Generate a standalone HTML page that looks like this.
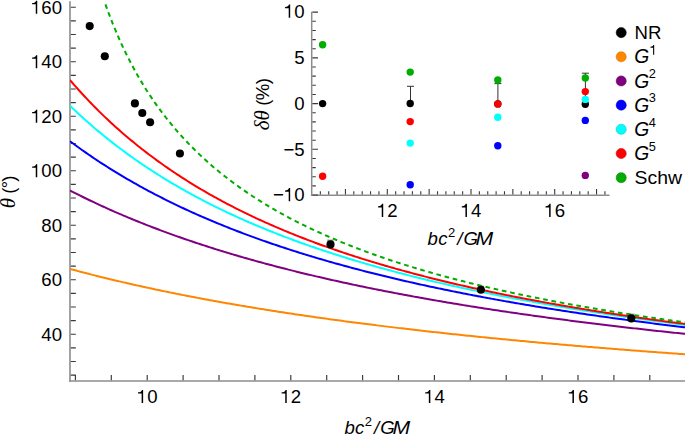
<!DOCTYPE html>
<html><head><meta charset="utf-8"><style>
html,body{margin:0;padding:0;background:#fff;}
body{width:685px;height:435px;overflow:hidden;font-family:"Liberation Sans",sans-serif;}
svg{display:block;}
</style></head><body>
<svg width="685" height="435" viewBox="0 0 685 435">
<rect width="685" height="435" fill="#fff"/>
<defs><clipPath id="cm"><rect x="70.0" y="1.2" width="615.0" height="379.8"/></clipPath></defs>
<line x1="70.0" y1="1.2" x2="70.0" y2="381.8" stroke="#8c8c8c" stroke-width="1.6"/>
<line x1="69.2" y1="381.0" x2="685.0" y2="381.0" stroke="#8c8c8c" stroke-width="1.6"/>
<path d="M70.8,375.07h5.0M70.8,361.45h5.0M70.8,347.82h5.0M70.8,334.20h5.0M70.8,320.57h5.0M70.8,306.95h5.0M70.8,293.32h5.0M70.8,279.70h5.0M70.8,266.07h5.0M70.8,252.45h5.0M70.8,238.82h5.0M70.8,225.20h5.0M70.8,211.57h5.0M70.8,197.95h5.0M70.8,184.32h5.0M70.8,170.70h5.0M70.8,157.07h5.0M70.8,143.45h5.0M70.8,129.82h5.0M70.8,116.20h5.0M70.8,102.58h5.0M70.8,88.95h5.0M70.8,75.33h5.0M70.8,61.70h5.0M70.8,48.08h5.0M70.8,34.45h5.0M70.8,20.82h5.0M70.8,7.20h5.0M75.40,380.2v-5.2M111.30,380.2v-5.2M147.20,380.2v-5.2M183.10,380.2v-5.2M219.00,380.2v-5.2M254.90,380.2v-5.2M290.80,380.2v-5.2M326.70,380.2v-5.2M362.60,380.2v-5.2M398.50,380.2v-5.2M434.40,380.2v-5.2M470.30,380.2v-5.2M506.20,380.2v-5.2M542.10,380.2v-5.2M578.00,380.2v-5.2M613.90,380.2v-5.2M649.80,380.2v-5.2" stroke="#383838" stroke-width="1.15" fill="none"/>
<g clip-path="url(#cm)" fill="none" stroke-width="2" stroke-linejoin="round">
<path d="M70.00,268.92 L72.06,269.48 L74.12,270.03 L76.18,270.58 L78.24,271.13 L80.30,271.68 L82.36,272.22 L84.42,272.75 L86.48,273.29 L88.54,273.82 L90.60,274.35 L92.66,274.87 L94.72,275.39 L96.78,275.91 L98.84,276.42 L100.90,276.94 L102.96,277.44 L105.02,277.95 L107.08,278.45 L109.14,278.95 L111.20,279.45 L113.26,279.94 L115.32,280.43 L117.38,280.92 L119.44,281.40 L121.51,281.88 L123.57,282.36 L125.63,282.84 L127.69,283.31 L129.75,283.78 L131.81,284.25 L133.87,284.71 L135.93,285.18 L137.99,285.64 L140.05,286.09 L142.11,286.55 L144.17,287.00 L146.23,287.45 L148.29,287.89 L150.35,288.34 L152.41,288.78 L154.47,289.22 L156.53,289.65 L158.59,290.09 L160.65,290.52 L162.71,290.95 L164.77,291.37 L166.83,291.80 L168.89,292.22 L170.95,292.64 L173.01,293.05 L175.07,293.47 L177.13,293.88 L179.19,294.29 L181.25,294.70 L183.31,295.11 L185.37,295.51 L187.43,295.91 L189.49,296.31 L191.55,296.71 L193.61,297.10 L195.67,297.49 L197.73,297.88 L199.79,298.27 L201.85,298.66 L203.91,299.04 L205.97,299.43 L208.03,299.81 L210.09,300.18 L212.15,300.56 L214.21,300.94 L216.27,301.31 L218.33,301.68 L220.39,302.05 L222.45,302.41 L224.52,302.78 L226.58,303.14 L228.64,303.50 L230.70,303.86 L232.76,304.22 L234.82,304.57 L236.88,304.93 L238.94,305.28 L241.00,305.63 L243.06,305.98 L245.12,306.32 L247.18,306.67 L249.24,307.01 L251.30,307.35 L253.36,307.69 L255.42,308.03 L257.48,308.37 L259.54,308.70 L261.60,309.03 L263.66,309.36 L265.72,309.69 L267.78,310.02 L269.84,310.35 L271.90,310.67 L273.96,311.00 L276.02,311.32 L278.08,311.64 L280.14,311.96 L282.20,312.27 L284.26,312.59 L286.32,312.90 L288.38,313.22 L290.44,313.53 L292.50,313.84 L294.56,314.14 L296.62,314.45 L298.68,314.76 L300.74,315.06 L302.80,315.36 L304.86,315.66 L306.92,315.96 L308.98,316.26 L311.04,316.56 L313.10,316.85 L315.16,317.15 L317.22,317.44 L319.28,317.73 L321.34,318.02 L323.40,318.31 L325.46,318.59 L327.53,318.88 L329.59,319.16 L331.65,319.45 L333.71,319.73 L335.77,320.01 L337.83,320.29 L339.89,320.57 L341.95,320.84 L344.01,321.12 L346.07,321.39 L348.13,321.67 L350.19,321.94 L352.25,322.21 L354.31,322.48 L356.37,322.75 L358.43,323.01 L360.49,323.28 L362.55,323.54 L364.61,323.81 L366.67,324.07 L368.73,324.33 L370.79,324.59 L372.85,324.85 L374.91,325.11 L376.97,325.37 L379.03,325.62 L381.09,325.88 L383.15,326.13 L385.21,326.38 L387.27,326.63 L389.33,326.88 L391.39,327.13 L393.45,327.38 L395.51,327.63 L397.57,327.87 L399.63,328.12 L401.69,328.36 L403.75,328.60 L405.81,328.85 L407.87,329.09 L409.93,329.33 L411.99,329.56 L414.05,329.80 L416.11,330.04 L418.17,330.28 L420.23,330.51 L422.29,330.74 L424.35,330.98 L426.41,331.21 L428.47,331.44 L430.54,331.67 L432.60,331.90 L434.66,332.13 L436.72,332.35 L438.78,332.58 L440.84,332.80 L442.90,333.03 L444.96,333.25 L447.02,333.48 L449.08,333.70 L451.14,333.92 L453.20,334.14 L455.26,334.36 L457.32,334.57 L459.38,334.79 L461.44,335.01 L463.50,335.22 L465.56,335.44 L467.62,335.65 L469.68,335.86 L471.74,336.08 L473.80,336.29 L475.86,336.50 L477.92,336.71 L479.98,336.92 L482.04,337.13 L484.10,337.33 L486.16,337.54 L488.22,337.74 L490.28,337.95 L492.34,338.15 L494.40,338.36 L496.46,338.56 L498.52,338.76 L500.58,338.96 L502.64,339.16 L504.70,339.36 L506.76,339.56 L508.82,339.76 L510.88,339.95 L512.94,340.15 L515.00,340.35 L517.06,340.54 L519.12,340.73 L521.18,340.93 L523.24,341.12 L525.30,341.31 L527.36,341.50 L529.42,341.69 L531.48,341.88 L533.55,342.07 L535.61,342.26 L537.67,342.45 L539.73,342.64 L541.79,342.82 L543.85,343.01 L545.91,343.19 L547.97,343.38 L550.03,343.56 L552.09,343.74 L554.15,343.92 L556.21,344.11 L558.27,344.29 L560.33,344.47 L562.39,344.65 L564.45,344.83 L566.51,345.00 L568.57,345.18 L570.63,345.36 L572.69,345.53 L574.75,345.71 L576.81,345.88 L578.87,346.06 L580.93,346.23 L582.99,346.41 L585.05,346.58 L587.11,346.75 L589.17,346.92 L591.23,347.09 L593.29,347.26 L595.35,347.43 L597.41,347.60 L599.47,347.77 L601.53,347.94 L603.59,348.10 L605.65,348.27 L607.71,348.44 L609.77,348.60 L611.83,348.77 L613.89,348.93 L615.95,349.09 L618.01,349.26 L620.07,349.42 L622.13,349.58 L624.19,349.74 L626.25,349.90 L628.31,350.06 L630.37,350.22 L632.43,350.38 L634.49,350.54 L636.56,350.70 L638.62,350.86 L640.68,351.02 L642.74,351.17 L644.80,351.33 L646.86,351.48 L648.92,351.64 L650.98,351.79 L653.04,351.95 L655.10,352.10 L657.16,352.25 L659.22,352.40 L661.28,352.56 L663.34,352.71 L665.40,352.86 L667.46,353.01 L669.52,353.16 L671.58,353.31 L673.64,353.46 L675.70,353.61 L677.76,353.75 L679.82,353.90 L681.88,354.05 L683.94,354.19 L686.00,354.34" stroke="#ff8600"/>
<path d="M70.00,190.51 L72.06,191.57 L74.12,192.62 L76.18,193.66 L78.24,194.70 L80.30,195.72 L82.36,196.74 L84.42,197.76 L86.48,198.76 L88.54,199.75 L90.60,200.74 L92.66,201.72 L94.72,202.70 L96.78,203.66 L98.84,204.62 L100.90,205.57 L102.96,206.52 L105.02,207.45 L107.08,208.38 L109.14,209.31 L111.20,210.22 L113.26,211.13 L115.32,212.04 L117.38,212.93 L119.44,213.82 L121.51,214.70 L123.57,215.58 L125.63,216.45 L127.69,217.32 L129.75,218.17 L131.81,219.03 L133.87,219.87 L135.93,220.71 L137.99,221.54 L140.05,222.37 L142.11,223.19 L144.17,224.01 L146.23,224.82 L148.29,225.62 L150.35,226.42 L152.41,227.22 L154.47,228.00 L156.53,228.79 L158.59,229.56 L160.65,230.34 L162.71,231.10 L164.77,231.86 L166.83,232.62 L168.89,233.37 L170.95,234.12 L173.01,234.86 L175.07,235.59 L177.13,236.32 L179.19,237.05 L181.25,237.77 L183.31,238.49 L185.37,239.20 L187.43,239.91 L189.49,240.61 L191.55,241.30 L193.61,242.00 L195.67,242.69 L197.73,243.37 L199.79,244.05 L201.85,244.73 L203.91,245.40 L205.97,246.06 L208.03,246.73 L210.09,247.38 L212.15,248.04 L214.21,248.69 L216.27,249.33 L218.33,249.97 L220.39,250.61 L222.45,251.24 L224.52,251.87 L226.58,252.50 L228.64,253.12 L230.70,253.74 L232.76,254.35 L234.82,254.96 L236.88,255.57 L238.94,256.17 L241.00,256.77 L243.06,257.37 L245.12,257.96 L247.18,258.55 L249.24,259.13 L251.30,259.71 L253.36,260.29 L255.42,260.86 L257.48,261.43 L259.54,262.00 L261.60,262.56 L263.66,263.12 L265.72,263.68 L267.78,264.24 L269.84,264.79 L271.90,265.33 L273.96,265.88 L276.02,266.42 L278.08,266.96 L280.14,267.49 L282.20,268.02 L284.26,268.55 L286.32,269.08 L288.38,269.60 L290.44,270.12 L292.50,270.63 L294.56,271.15 L296.62,271.66 L298.68,272.17 L300.74,272.67 L302.80,273.17 L304.86,273.67 L306.92,274.17 L308.98,274.66 L311.04,275.15 L313.10,275.64 L315.16,276.13 L317.22,276.61 L319.28,277.09 L321.34,277.56 L323.40,278.04 L325.46,278.51 L327.53,278.98 L329.59,279.45 L331.65,279.91 L333.71,280.37 L335.77,280.83 L337.83,281.29 L339.89,281.74 L341.95,282.20 L344.01,282.65 L346.07,283.09 L348.13,283.54 L350.19,283.98 L352.25,284.42 L354.31,284.86 L356.37,285.29 L358.43,285.72 L360.49,286.16 L362.55,286.58 L364.61,287.01 L366.67,287.43 L368.73,287.86 L370.79,288.28 L372.85,288.69 L374.91,289.11 L376.97,289.52 L379.03,289.93 L381.09,290.34 L383.15,290.75 L385.21,291.15 L387.27,291.55 L389.33,291.96 L391.39,292.35 L393.45,292.75 L395.51,293.14 L397.57,293.54 L399.63,293.93 L401.69,294.32 L403.75,294.70 L405.81,295.09 L407.87,295.47 L409.93,295.85 L411.99,296.23 L414.05,296.61 L416.11,296.98 L418.17,297.35 L420.23,297.73 L422.29,298.10 L424.35,298.46 L426.41,298.83 L428.47,299.19 L430.54,299.56 L432.60,299.92 L434.66,300.28 L436.72,300.63 L438.78,300.99 L440.84,301.34 L442.90,301.70 L444.96,302.05 L447.02,302.39 L449.08,302.74 L451.14,303.09 L453.20,303.43 L455.26,303.77 L457.32,304.11 L459.38,304.45 L461.44,304.79 L463.50,305.13 L465.56,305.46 L467.62,305.79 L469.68,306.12 L471.74,306.45 L473.80,306.78 L475.86,307.11 L477.92,307.43 L479.98,307.76 L482.04,308.08 L484.10,308.40 L486.16,308.72 L488.22,309.04 L490.28,309.35 L492.34,309.67 L494.40,309.98 L496.46,310.29 L498.52,310.60 L500.58,310.91 L502.64,311.22 L504.70,311.52 L506.76,311.83 L508.82,312.13 L510.88,312.43 L512.94,312.74 L515.00,313.04 L517.06,313.33 L519.12,313.63 L521.18,313.93 L523.24,314.22 L525.30,314.51 L527.36,314.80 L529.42,315.09 L531.48,315.38 L533.55,315.67 L535.61,315.96 L537.67,316.24 L539.73,316.53 L541.79,316.81 L543.85,317.09 L545.91,317.37 L547.97,317.65 L550.03,317.93 L552.09,318.21 L554.15,318.48 L556.21,318.76 L558.27,319.03 L560.33,319.30 L562.39,319.57 L564.45,319.84 L566.51,320.11 L568.57,320.38 L570.63,320.64 L572.69,320.91 L574.75,321.17 L576.81,321.44 L578.87,321.70 L580.93,321.96 L582.99,322.22 L585.05,322.48 L587.11,322.74 L589.17,322.99 L591.23,323.25 L593.29,323.50 L595.35,323.76 L597.41,324.01 L599.47,324.26 L601.53,324.51 L603.59,324.76 L605.65,325.01 L607.71,325.25 L609.77,325.50 L611.83,325.75 L613.89,325.99 L615.95,326.23 L618.01,326.48 L620.07,326.72 L622.13,326.96 L624.19,327.20 L626.25,327.43 L628.31,327.67 L630.37,327.91 L632.43,328.14 L634.49,328.38 L636.56,328.61 L638.62,328.84 L640.68,329.08 L642.74,329.31 L644.80,329.54 L646.86,329.77 L648.92,330.00 L650.98,330.22 L653.04,330.45 L655.10,330.67 L657.16,330.90 L659.22,331.12 L661.28,331.35 L663.34,331.57 L665.40,331.79 L667.46,332.01 L669.52,332.23 L671.58,332.45 L673.64,332.67 L675.70,332.88 L677.76,333.10 L679.82,333.31 L681.88,333.53 L683.94,333.74 L686.00,333.96" stroke="#800080"/>
<path d="M70.00,141.25 L72.06,142.78 L74.12,144.30 L76.18,145.80 L78.24,147.29 L80.30,148.77 L82.36,150.23 L84.42,151.68 L86.48,153.11 L88.54,154.54 L90.60,155.95 L92.66,157.34 L94.72,158.73 L96.78,160.10 L98.84,161.46 L100.90,162.81 L102.96,164.14 L105.02,165.46 L107.08,166.78 L109.14,168.08 L111.20,169.37 L113.26,170.64 L115.32,171.91 L117.38,173.16 L119.44,174.41 L121.51,175.64 L123.57,176.87 L125.63,178.08 L127.69,179.28 L129.75,180.47 L131.81,181.66 L133.87,182.83 L135.93,183.99 L137.99,185.14 L140.05,186.29 L142.11,187.42 L144.17,188.55 L146.23,189.66 L148.29,190.77 L150.35,191.86 L152.41,192.95 L154.47,194.03 L156.53,195.10 L158.59,196.16 L160.65,197.22 L162.71,198.26 L164.77,199.30 L166.83,200.32 L168.89,201.34 L170.95,202.36 L173.01,203.36 L175.07,204.36 L177.13,205.34 L179.19,206.33 L181.25,207.30 L183.31,208.26 L185.37,209.22 L187.43,210.17 L189.49,211.12 L191.55,212.05 L193.61,212.98 L195.67,213.90 L197.73,214.82 L199.79,215.73 L201.85,216.63 L203.91,217.52 L205.97,218.41 L208.03,219.29 L210.09,220.16 L212.15,221.03 L214.21,221.89 L216.27,222.75 L218.33,223.60 L220.39,224.44 L222.45,225.28 L224.52,226.11 L226.58,226.93 L228.64,227.75 L230.70,228.57 L232.76,229.37 L234.82,230.17 L236.88,230.97 L238.94,231.76 L241.00,232.54 L243.06,233.32 L245.12,234.10 L247.18,234.86 L249.24,235.63 L251.30,236.38 L253.36,237.14 L255.42,237.88 L257.48,238.62 L259.54,239.36 L261.60,240.09 L263.66,240.82 L265.72,241.54 L267.78,242.26 L269.84,242.97 L271.90,243.68 L273.96,244.38 L276.02,245.07 L278.08,245.77 L280.14,246.46 L282.20,247.14 L284.26,247.82 L286.32,248.49 L288.38,249.16 L290.44,249.83 L292.50,250.49 L294.56,251.15 L296.62,251.80 L298.68,252.45 L300.74,253.09 L302.80,253.73 L304.86,254.37 L306.92,255.00 L308.98,255.63 L311.04,256.25 L313.10,256.87 L315.16,257.49 L317.22,258.10 L319.28,258.71 L321.34,259.31 L323.40,259.91 L325.46,260.51 L327.53,261.10 L329.59,261.69 L331.65,262.28 L333.71,262.86 L335.77,263.44 L337.83,264.01 L339.89,264.58 L341.95,265.15 L344.01,265.72 L346.07,266.28 L348.13,266.83 L350.19,267.39 L352.25,267.94 L354.31,268.49 L356.37,269.03 L358.43,269.57 L360.49,270.11 L362.55,270.64 L364.61,271.17 L366.67,271.70 L368.73,272.23 L370.79,272.75 L372.85,273.27 L374.91,273.78 L376.97,274.30 L379.03,274.81 L381.09,275.31 L383.15,275.82 L385.21,276.32 L387.27,276.82 L389.33,277.31 L391.39,277.80 L393.45,278.29 L395.51,278.78 L397.57,279.26 L399.63,279.75 L401.69,280.22 L403.75,280.70 L405.81,281.17 L407.87,281.64 L409.93,282.11 L411.99,282.58 L414.05,283.04 L416.11,283.50 L418.17,283.96 L420.23,284.41 L422.29,284.86 L424.35,285.31 L426.41,285.76 L428.47,286.20 L430.54,286.65 L432.60,287.09 L434.66,287.53 L436.72,287.96 L438.78,288.39 L440.84,288.82 L442.90,289.25 L444.96,289.68 L447.02,290.10 L449.08,290.52 L451.14,290.94 L453.20,291.36 L455.26,291.77 L457.32,292.19 L459.38,292.60 L461.44,293.01 L463.50,293.41 L465.56,293.82 L467.62,294.22 L469.68,294.62 L471.74,295.01 L473.80,295.41 L475.86,295.80 L477.92,296.20 L479.98,296.58 L482.04,296.97 L484.10,297.36 L486.16,297.74 L488.22,298.12 L490.28,298.50 L492.34,298.88 L494.40,299.26 L496.46,299.63 L498.52,300.00 L500.58,300.37 L502.64,300.74 L504.70,301.11 L506.76,301.47 L508.82,301.83 L510.88,302.19 L512.94,302.55 L515.00,302.91 L517.06,303.27 L519.12,303.62 L521.18,303.97 L523.24,304.32 L525.30,304.67 L527.36,305.02 L529.42,305.36 L531.48,305.71 L533.55,306.05 L535.61,306.39 L537.67,306.73 L539.73,307.06 L541.79,307.40 L543.85,307.73 L545.91,308.06 L547.97,308.40 L550.03,308.72 L552.09,309.05 L554.15,309.38 L556.21,309.70 L558.27,310.02 L560.33,310.35 L562.39,310.67 L564.45,310.98 L566.51,311.30 L568.57,311.62 L570.63,311.93 L572.69,312.24 L574.75,312.55 L576.81,312.86 L578.87,313.17 L580.93,313.48 L582.99,313.78 L585.05,314.08 L587.11,314.39 L589.17,314.69 L591.23,314.99 L593.29,315.29 L595.35,315.58 L597.41,315.88 L599.47,316.17 L601.53,316.46 L603.59,316.76 L605.65,317.05 L607.71,317.34 L609.77,317.62 L611.83,317.91 L613.89,318.19 L615.95,318.48 L618.01,318.76 L620.07,319.04 L622.13,319.32 L624.19,319.60 L626.25,319.88 L628.31,320.15 L630.37,320.43 L632.43,320.70 L634.49,320.98 L636.56,321.25 L638.62,321.52 L640.68,321.79 L642.74,322.06 L644.80,322.32 L646.86,322.59 L648.92,322.85 L650.98,323.12 L653.04,323.38 L655.10,323.64 L657.16,323.90 L659.22,324.16 L661.28,324.42 L663.34,324.67 L665.40,324.93 L667.46,325.18 L669.52,325.44 L671.58,325.69 L673.64,325.94 L675.70,326.19 L677.76,326.44 L679.82,326.69 L681.88,326.93 L683.94,327.18 L686.00,327.43" stroke="#0000ff"/>
<path d="M70.00,105.68 L72.06,107.67 L74.12,109.63 L76.18,111.58 L78.24,113.50 L80.30,115.40 L82.36,117.28 L84.42,119.14 L86.48,120.99 L88.54,122.81 L90.60,124.61 L92.66,126.40 L94.72,128.16 L96.78,129.91 L98.84,131.64 L100.90,133.35 L102.96,135.04 L105.02,136.72 L107.08,138.38 L109.14,140.02 L111.20,141.65 L113.26,143.26 L115.32,144.85 L117.38,146.43 L119.44,147.99 L121.51,149.54 L123.57,151.07 L125.63,152.59 L127.69,154.09 L129.75,155.58 L131.81,157.05 L133.87,158.51 L135.93,159.95 L137.99,161.39 L140.05,162.80 L142.11,164.21 L144.17,165.60 L146.23,166.97 L148.29,168.34 L150.35,169.69 L152.41,171.03 L154.47,172.36 L156.53,173.67 L158.59,174.98 L160.65,176.27 L162.71,177.55 L164.77,178.81 L166.83,180.07 L168.89,181.31 L170.95,182.55 L173.01,183.77 L175.07,184.98 L177.13,186.18 L179.19,187.37 L181.25,188.55 L183.31,189.72 L185.37,190.88 L187.43,192.03 L189.49,193.17 L191.55,194.30 L193.61,195.42 L195.67,196.53 L197.73,197.63 L199.79,198.72 L201.85,199.80 L203.91,200.87 L205.97,201.94 L208.03,202.99 L210.09,204.04 L212.15,205.08 L214.21,206.10 L216.27,207.12 L218.33,208.14 L220.39,209.14 L222.45,210.13 L224.52,211.12 L226.58,212.10 L228.64,213.07 L230.70,214.03 L232.76,214.99 L234.82,215.94 L236.88,216.88 L238.94,217.81 L241.00,218.74 L243.06,219.65 L245.12,220.57 L247.18,221.47 L249.24,222.37 L251.30,223.26 L253.36,224.14 L255.42,225.01 L257.48,225.88 L259.54,226.75 L261.60,227.60 L263.66,228.45 L265.72,229.29 L267.78,230.13 L269.84,230.96 L271.90,231.78 L273.96,232.60 L276.02,233.41 L278.08,234.22 L280.14,235.02 L282.20,235.81 L284.26,236.60 L286.32,237.38 L288.38,238.16 L290.44,238.93 L292.50,239.69 L294.56,240.45 L296.62,241.21 L298.68,241.96 L300.74,242.70 L302.80,243.44 L304.86,244.17 L306.92,244.90 L308.98,245.62 L311.04,246.34 L313.10,247.05 L315.16,247.75 L317.22,248.46 L319.28,249.15 L321.34,249.85 L323.40,250.53 L325.46,251.22 L327.53,251.89 L329.59,252.57 L331.65,253.24 L333.71,253.90 L335.77,254.56 L337.83,255.21 L339.89,255.87 L341.95,256.51 L344.01,257.15 L346.07,257.79 L348.13,258.42 L350.19,259.05 L352.25,259.68 L354.31,260.30 L356.37,260.92 L358.43,261.53 L360.49,262.14 L362.55,262.74 L364.61,263.34 L366.67,263.94 L368.73,264.53 L370.79,265.12 L372.85,265.71 L374.91,266.29 L376.97,266.87 L379.03,267.44 L381.09,268.01 L383.15,268.58 L385.21,269.14 L387.27,269.70 L389.33,270.26 L391.39,270.81 L393.45,271.36 L395.51,271.90 L397.57,272.44 L399.63,272.98 L401.69,273.52 L403.75,274.05 L405.81,274.58 L407.87,275.11 L409.93,275.63 L411.99,276.15 L414.05,276.66 L416.11,277.18 L418.17,277.69 L420.23,278.19 L422.29,278.70 L424.35,279.20 L426.41,279.70 L428.47,280.19 L430.54,280.68 L432.60,281.17 L434.66,281.66 L436.72,282.14 L438.78,282.62 L440.84,283.10 L442.90,283.57 L444.96,284.05 L447.02,284.51 L449.08,284.98 L451.14,285.44 L453.20,285.91 L455.26,286.36 L457.32,286.82 L459.38,287.27 L461.44,287.72 L463.50,288.17 L465.56,288.62 L467.62,289.06 L469.68,289.50 L471.74,289.94 L473.80,290.37 L475.86,290.81 L477.92,291.24 L479.98,291.67 L482.04,292.09 L484.10,292.52 L486.16,292.94 L488.22,293.36 L490.28,293.77 L492.34,294.19 L494.40,294.60 L496.46,295.01 L498.52,295.41 L500.58,295.82 L502.64,296.22 L504.70,296.62 L506.76,297.02 L508.82,297.42 L510.88,297.81 L512.94,298.21 L515.00,298.60 L517.06,298.98 L519.12,299.37 L521.18,299.75 L523.24,300.14 L525.30,300.52 L527.36,300.89 L529.42,301.27 L531.48,301.64 L533.55,302.02 L535.61,302.39 L537.67,302.75 L539.73,303.12 L541.79,303.49 L543.85,303.85 L545.91,304.21 L547.97,304.57 L550.03,304.92 L552.09,305.28 L554.15,305.63 L556.21,305.98 L558.27,306.33 L560.33,306.68 L562.39,307.03 L564.45,307.37 L566.51,307.72 L568.57,308.06 L570.63,308.40 L572.69,308.73 L574.75,309.07 L576.81,309.40 L578.87,309.74 L580.93,310.07 L582.99,310.40 L585.05,310.73 L587.11,311.05 L589.17,311.38 L591.23,311.70 L593.29,312.02 L595.35,312.34 L597.41,312.66 L599.47,312.98 L601.53,313.29 L603.59,313.60 L605.65,313.92 L607.71,314.23 L609.77,314.54 L611.83,314.84 L613.89,315.15 L615.95,315.46 L618.01,315.76 L620.07,316.06 L622.13,316.36 L624.19,316.66 L626.25,316.96 L628.31,317.25 L630.37,317.55 L632.43,317.84 L634.49,318.13 L636.56,318.43 L638.62,318.72 L640.68,319.00 L642.74,319.29 L644.80,319.58 L646.86,319.86 L648.92,320.14 L650.98,320.42 L653.04,320.70 L655.10,320.98 L657.16,321.26 L659.22,321.54 L661.28,321.81 L663.34,322.09 L665.40,322.36 L667.46,322.63 L669.52,322.90 L671.58,323.17 L673.64,323.44 L675.70,323.71 L677.76,323.97 L679.82,324.24 L681.88,324.50 L683.94,324.76 L686.00,325.02" stroke="#00ffff"/>
<path d="M70.00,80.08 L72.06,82.48 L74.12,84.84 L76.18,87.17 L78.24,89.48 L80.30,91.76 L82.36,94.01 L84.42,96.24 L86.48,98.44 L88.54,100.61 L90.60,102.76 L92.66,104.88 L94.72,106.97 L96.78,109.05 L98.84,111.09 L100.90,113.12 L102.96,115.12 L105.02,117.10 L107.08,119.05 L109.14,120.99 L111.20,122.90 L113.26,124.79 L115.32,126.66 L117.38,128.51 L119.44,130.34 L121.51,132.14 L123.57,133.93 L125.63,135.70 L127.69,137.45 L129.75,139.18 L131.81,140.89 L133.87,142.59 L135.93,144.26 L137.99,145.92 L140.05,147.56 L142.11,149.18 L144.17,150.79 L146.23,152.38 L148.29,153.95 L150.35,155.51 L152.41,157.05 L154.47,158.57 L156.53,160.08 L158.59,161.58 L160.65,163.05 L162.71,164.52 L164.77,165.97 L166.83,167.40 L168.89,168.82 L170.95,170.23 L173.01,171.62 L175.07,173.00 L177.13,174.36 L179.19,175.71 L181.25,177.05 L183.31,178.38 L185.37,179.69 L187.43,180.99 L189.49,182.28 L191.55,183.56 L193.61,184.82 L195.67,186.07 L197.73,187.31 L199.79,188.54 L201.85,189.76 L203.91,190.96 L205.97,192.16 L208.03,193.34 L210.09,194.51 L212.15,195.67 L214.21,196.82 L216.27,197.97 L218.33,199.10 L220.39,200.22 L222.45,201.33 L224.52,202.43 L226.58,203.52 L228.64,204.60 L230.70,205.67 L232.76,206.73 L234.82,207.79 L236.88,208.83 L238.94,209.86 L241.00,210.89 L243.06,211.91 L245.12,212.92 L247.18,213.91 L249.24,214.91 L251.30,215.89 L253.36,216.86 L255.42,217.83 L257.48,218.79 L259.54,219.74 L261.60,220.68 L263.66,221.61 L265.72,222.54 L267.78,223.46 L269.84,224.37 L271.90,225.28 L273.96,226.17 L276.02,227.06 L278.08,227.94 L280.14,228.82 L282.20,229.69 L284.26,230.55 L286.32,231.40 L288.38,232.25 L290.44,233.09 L292.50,233.93 L294.56,234.75 L296.62,235.57 L298.68,236.39 L300.74,237.20 L302.80,238.00 L304.86,238.80 L306.92,239.59 L308.98,240.37 L311.04,241.15 L313.10,241.92 L315.16,242.69 L317.22,243.45 L319.28,244.20 L321.34,244.95 L323.40,245.69 L325.46,246.43 L327.53,247.17 L329.59,247.89 L331.65,248.61 L333.71,249.33 L335.77,250.04 L337.83,250.75 L339.89,251.45 L341.95,252.14 L344.01,252.84 L346.07,253.52 L348.13,254.20 L350.19,254.88 L352.25,255.55 L354.31,256.22 L356.37,256.88 L358.43,257.54 L360.49,258.19 L362.55,258.84 L364.61,259.48 L366.67,260.12 L368.73,260.75 L370.79,261.38 L372.85,262.01 L374.91,262.63 L376.97,263.25 L379.03,263.86 L381.09,264.47 L383.15,265.07 L385.21,265.68 L387.27,266.27 L389.33,266.86 L391.39,267.45 L393.45,268.04 L395.51,268.62 L397.57,269.20 L399.63,269.77 L401.69,270.34 L403.75,270.90 L405.81,271.47 L407.87,272.03 L409.93,272.58 L411.99,273.13 L414.05,273.68 L416.11,274.22 L418.17,274.76 L420.23,275.30 L422.29,275.83 L424.35,276.36 L426.41,276.89 L428.47,277.41 L430.54,277.93 L432.60,278.45 L434.66,278.97 L436.72,279.48 L438.78,279.98 L440.84,280.49 L442.90,280.99 L444.96,281.49 L447.02,281.98 L449.08,282.47 L451.14,282.96 L453.20,283.45 L455.26,283.93 L457.32,284.41 L459.38,284.89 L461.44,285.36 L463.50,285.83 L465.56,286.30 L467.62,286.77 L469.68,287.23 L471.74,287.69 L473.80,288.15 L475.86,288.60 L477.92,289.06 L479.98,289.51 L482.04,289.95 L484.10,290.40 L486.16,290.84 L488.22,291.28 L490.28,291.71 L492.34,292.15 L494.40,292.58 L496.46,293.01 L498.52,293.44 L500.58,293.86 L502.64,294.28 L504.70,294.70 L506.76,295.12 L508.82,295.53 L510.88,295.95 L512.94,296.36 L515.00,296.76 L517.06,297.17 L519.12,297.57 L521.18,297.97 L523.24,298.37 L525.30,298.77 L527.36,299.16 L529.42,299.55 L531.48,299.94 L533.55,300.33 L535.61,300.72 L537.67,301.10 L539.73,301.48 L541.79,301.86 L543.85,302.24 L545.91,302.62 L547.97,302.99 L550.03,303.36 L552.09,303.73 L554.15,304.10 L556.21,304.46 L558.27,304.83 L560.33,305.19 L562.39,305.55 L564.45,305.91 L566.51,306.26 L568.57,306.62 L570.63,306.97 L572.69,307.32 L574.75,307.67 L576.81,308.01 L578.87,308.36 L580.93,308.70 L582.99,309.04 L585.05,309.38 L587.11,309.72 L589.17,310.06 L591.23,310.39 L593.29,310.73 L595.35,311.06 L597.41,311.39 L599.47,311.71 L601.53,312.04 L603.59,312.37 L605.65,312.69 L607.71,313.01 L609.77,313.33 L611.83,313.65 L613.89,313.96 L615.95,314.28 L618.01,314.59 L620.07,314.91 L622.13,315.22 L624.19,315.52 L626.25,315.83 L628.31,316.14 L630.37,316.44 L632.43,316.75 L634.49,317.05 L636.56,317.35 L638.62,317.65 L640.68,317.94 L642.74,318.24 L644.80,318.53 L646.86,318.83 L648.92,319.12 L650.98,319.41 L653.04,319.70 L655.10,319.98 L657.16,320.27 L659.22,320.56 L661.28,320.84 L663.34,321.12 L665.40,321.40 L667.46,321.68 L669.52,321.96 L671.58,322.24 L673.64,322.51 L675.70,322.79 L677.76,323.06 L679.82,323.33 L681.88,323.60 L683.94,323.87 L686.00,324.14" stroke="#ff0000"/>
<path d="M105.34,3.97 L106.80,8.05 L108.25,12.02 L109.71,15.88 L111.16,19.66 L112.62,23.34 L114.07,26.93 L115.53,30.44 L116.98,33.86 L118.44,37.22 L119.89,40.49 L121.35,43.70 L122.80,46.83 L124.26,49.90 L125.71,52.91 L127.17,55.86 L128.63,58.74 L130.08,61.57 L131.54,64.35 L132.99,67.07 L134.45,69.74 L135.90,72.36 L137.36,74.93 L138.81,77.46 L140.27,79.94 L141.72,82.38 L143.18,84.77 L144.63,87.13 L146.09,89.44 L147.54,91.72 L149.00,93.96 L150.45,96.16 L151.91,98.33 L153.37,100.46 L154.82,102.56 L156.28,104.62 L157.73,106.66 L159.19,108.66 L160.64,110.64 L162.10,112.58 L163.55,114.50 L165.01,116.39 L166.46,118.25 L167.92,120.08 L169.37,121.89 L170.83,123.67 L172.28,125.43 L173.74,127.17 L175.19,128.88 L176.65,130.57 L178.10,132.24 L179.56,133.88 L181.02,135.51 L182.47,137.11 L183.93,138.69 L185.38,140.25 L186.84,141.80 L188.29,143.32 L189.75,144.82 L191.20,146.31 L192.66,147.78 L194.11,149.23 L195.57,150.66 L197.02,152.08 L198.48,153.48 L199.93,154.86 L201.39,156.23 L202.84,157.58 L204.30,158.92 L205.76,160.24 L207.21,161.55 L208.67,162.84 L210.12,164.12 L211.58,165.39 L213.03,166.64 L214.49,167.88 L215.94,169.10 L217.40,170.31 L218.85,171.51 L220.31,172.70 L221.76,173.87 L223.22,175.04 L224.67,176.19 L226.13,177.33 L227.58,178.45 L229.04,179.57 L230.50,180.67 L231.95,181.77 L233.41,182.85 L234.86,183.92 L236.32,184.99 L237.77,186.04 L239.23,187.08 L240.68,188.11 L242.14,189.14 L243.59,190.15 L245.05,191.15 L246.50,192.15 L247.96,193.13 L249.41,194.11 L250.87,195.08 L252.32,196.03 L253.78,196.99 L255.24,197.93 L256.69,198.86 L258.15,199.79 L259.60,200.70 L261.06,201.61 L262.51,202.51 L263.97,203.41 L265.42,204.29 L266.88,205.17 L268.33,206.04 L269.79,206.90 L271.24,207.76 L272.70,208.61 L274.15,209.45 L275.61,210.29 L277.06,211.12 L278.52,211.94 L279.98,212.75 L281.43,213.56 L282.89,214.36 L284.34,215.16 L285.80,215.95 L287.25,216.73 L288.71,217.51 L290.16,218.28 L291.62,219.04 L293.07,219.80 L294.53,220.56 L295.98,221.30 L297.44,222.04 L298.89,222.78 L300.35,223.51 L301.80,224.24 L303.26,224.96 L304.71,225.67 L306.17,226.38 L307.63,227.08 L309.08,227.78 L310.54,228.48 L311.99,229.16 L313.45,229.85 L314.90,230.53 L316.36,231.20 L317.81,231.87 L319.27,232.53 L320.72,233.19 L322.18,233.85 L323.63,234.50 L325.09,235.14 L326.54,235.78 L328.00,236.42 L329.45,237.05 L330.91,237.68 L332.37,238.30 L333.82,238.92 L335.28,239.54 L336.73,240.15 L338.19,240.76 L339.64,241.36 L341.10,241.96 L342.55,242.56 L344.01,243.15 L345.46,243.73 L346.92,244.32 L348.37,244.90 L349.83,245.47 L351.28,246.04 L352.74,246.61 L354.19,247.18 L355.65,247.74 L357.11,248.30 L358.56,248.85 L360.02,249.40 L361.47,249.95 L362.93,250.49 L364.38,251.03 L365.84,251.57 L367.29,252.10 L368.75,252.63 L370.20,253.16 L371.66,253.69 L373.11,254.21 L374.57,254.72 L376.02,255.24 L377.48,255.75 L378.93,256.26 L380.39,256.76 L381.85,257.27 L383.30,257.76 L384.76,258.26 L386.21,258.75 L387.67,259.24 L389.12,259.73 L390.58,260.22 L392.03,260.70 L393.49,261.18 L394.94,261.65 L396.40,262.13 L397.85,262.60 L399.31,263.07 L400.76,263.53 L402.22,264.00 L403.67,264.46 L405.13,264.91 L406.58,265.37 L408.04,265.82 L409.50,266.27 L410.95,266.72 L412.41,267.16 L413.86,267.61 L415.32,268.05 L416.77,268.49 L418.23,268.92 L419.68,269.35 L421.14,269.78 L422.59,270.21 L424.05,270.64 L425.50,271.06 L426.96,271.48 L428.41,271.90 L429.87,272.32 L431.32,272.74 L432.78,273.15 L434.24,273.56 L435.69,273.97 L437.15,274.37 L438.60,274.78 L440.06,275.18 L441.51,275.58 L442.97,275.98 L444.42,276.37 L445.88,276.77 L447.33,277.16 L448.79,277.55 L450.24,277.93 L451.70,278.32 L453.15,278.70 L454.61,279.09 L456.06,279.47 L457.52,279.84 L458.98,280.22 L460.43,280.59 L461.89,280.97 L463.34,281.34 L464.80,281.71 L466.25,282.07 L467.71,282.44 L469.16,282.80 L470.62,283.16 L472.07,283.52 L473.53,283.88 L474.98,284.24 L476.44,284.59 L477.89,284.94 L479.35,285.30 L480.80,285.64 L482.26,285.99 L483.72,286.34 L485.17,286.68 L486.63,287.03 L488.08,287.37 L489.54,287.71 L490.99,288.05 L492.45,288.38 L493.90,288.72 L495.36,289.05 L496.81,289.38 L498.27,289.71 L499.72,290.04 L501.18,290.37 L502.63,290.69 L504.09,291.02 L505.54,291.34 L507.00,291.66 L508.46,291.98 L509.91,292.30 L511.37,292.62 L512.82,292.93 L514.28,293.25 L515.73,293.56 L517.19,293.87 L518.64,294.18 L520.10,294.49 L521.55,294.80 L523.01,295.10 L524.46,295.41 L525.92,295.71 L527.37,296.01 L528.83,296.31 L530.28,296.61 L531.74,296.91 L533.19,297.20 L534.65,297.50 L536.11,297.79 L537.56,298.09 L539.02,298.38 L540.47,298.67 L541.93,298.96 L543.38,299.24 L544.84,299.53 L546.29,299.82 L547.75,300.10 L549.20,300.38 L550.66,300.66 L552.11,300.95 L553.57,301.22 L555.02,301.50 L556.48,301.78 L557.93,302.06 L559.39,302.33 L560.85,302.60 L562.30,302.88 L563.76,303.15 L565.21,303.42 L566.67,303.69 L568.12,303.95 L569.58,304.22 L571.03,304.49 L572.49,304.75 L573.94,305.01 L575.40,305.28 L576.85,305.54 L578.31,305.80 L579.76,306.06 L581.22,306.32 L582.67,306.57 L584.13,306.83 L585.59,307.09 L587.04,307.34 L588.50,307.59 L589.95,307.85 L591.41,308.10 L592.86,308.35 L594.32,308.60 L595.77,308.84 L597.23,309.09 L598.68,309.34 L600.14,309.58 L601.59,309.83 L603.05,310.07 L604.50,310.31 L605.96,310.56 L607.41,310.80 L608.87,311.04 L610.33,311.27 L611.78,311.51 L613.24,311.75 L614.69,311.99 L616.15,312.22 L617.60,312.45 L619.06,312.69 L620.51,312.92 L621.97,313.15 L623.42,313.38 L624.88,313.61 L626.33,313.84 L627.79,314.07 L629.24,314.30 L630.70,314.52 L632.15,314.75 L633.61,314.97 L635.06,315.20 L636.52,315.42 L637.98,315.64 L639.43,315.87 L640.89,316.09 L642.34,316.31 L643.80,316.52 L645.25,316.74 L646.71,316.96 L648.16,317.18 L649.62,317.39 L651.07,317.61 L652.53,317.82 L653.98,318.04 L655.44,318.25 L656.89,318.46 L658.35,318.67 L659.80,318.88 L661.26,319.09 L662.72,319.30 L664.17,319.51 L665.63,319.72 L667.08,319.92 L668.54,320.13 L669.99,320.34 L671.45,320.54 L672.90,320.74 L674.36,320.95 L675.81,321.15 L677.27,321.35 L678.72,321.55 L680.18,321.75 L681.63,321.95 L683.09,322.15 L684.54,322.35 L686.00,322.55" stroke="#00ad00" stroke-dasharray="4.7 3.734" stroke-dashoffset="-0.35"/>
</g>
<path d="M327.1,240.2h6.4" stroke="#666" stroke-width="0.9" fill="none"/>
<path d="M477.6,286.2h6.4" stroke="#666" stroke-width="0.9" fill="none"/>
<path d="M628.1,314.2h6.4" stroke="#666" stroke-width="0.9" fill="none"/>
<circle cx="89.7" cy="26.1" r="4.05" fill="#000"/>
<circle cx="104.8" cy="56.3" r="4.05" fill="#000"/>
<circle cx="134.9" cy="103.4" r="4.05" fill="#000"/>
<circle cx="142.3" cy="113.0" r="4.05" fill="#000"/>
<circle cx="150.1" cy="122.2" r="4.05" fill="#000"/>
<circle cx="179.9" cy="153.5" r="4.05" fill="#000"/>
<circle cx="330.5" cy="244.4" r="4.05" fill="#000"/>
<circle cx="480.9" cy="289.8" r="4.05" fill="#000"/>
<circle cx="631.3" cy="318.4" r="4.05" fill="#000"/>
<g font-family="Liberation Sans, sans-serif" font-size="18.60" fill="#000">
<text x="41.32" y="340.85" font-size="18.60">4</text><text x="51.66" y="340.85" font-size="18.60">0</text>
<text x="41.32" y="286.35" font-size="18.60">6</text><text x="51.66" y="286.35" font-size="18.60">0</text>
<text x="41.32" y="231.85" font-size="18.60">8</text><text x="51.66" y="231.85" font-size="18.60">0</text>
<path d="M37.24,177.35L37.24,164.16L36.03,164.16C35.66,165.45 34.42,166.41 32.13,166.56L32.13,167.83L35.76,167.83L35.76,177.35Z" fill="#000"/><text x="41.32" y="177.35" font-size="18.60">0</text><text x="51.66" y="177.35" font-size="18.60">0</text>
<path d="M37.24,122.85L37.24,109.66L36.03,109.66C35.66,110.95 34.42,111.91 32.13,112.06L32.13,113.33L35.76,113.33L35.76,122.85Z" fill="#000"/><text x="41.32" y="122.85" font-size="18.60">2</text><text x="51.66" y="122.85" font-size="18.60">0</text>
<path d="M37.24,68.35L37.24,55.16L36.03,55.16C35.66,56.45 34.42,57.41 32.13,57.56L32.13,58.83L35.76,58.83L35.76,68.35Z" fill="#000"/><text x="41.32" y="68.35" font-size="18.60">4</text><text x="51.66" y="68.35" font-size="18.60">0</text>
<path d="M37.24,13.85L37.24,0.66L36.03,0.66C35.66,1.95 34.42,2.91 32.13,3.06L32.13,4.33L35.76,4.33L35.76,13.85Z" fill="#000"/><text x="41.32" y="13.85" font-size="18.60">6</text><text x="51.66" y="13.85" font-size="18.60">0</text>
<path d="M143.13,403.10L143.13,389.91L141.92,389.91C141.55,391.20 140.30,392.16 138.01,392.31L138.01,393.58L141.64,393.58L141.64,403.10Z" fill="#000"/><text x="147.20" y="403.10" font-size="18.60">0</text>
<path d="M286.73,403.10L286.73,389.91L285.52,389.91C285.15,391.20 283.90,392.16 281.61,392.31L281.61,393.58L285.24,393.58L285.24,403.10Z" fill="#000"/><text x="290.80" y="403.10" font-size="18.60">2</text>
<path d="M430.33,403.10L430.33,389.91L429.12,389.91C428.75,391.20 427.50,392.16 425.21,392.31L425.21,393.58L428.84,393.58L428.84,403.10Z" fill="#000"/><text x="434.40" y="403.10" font-size="18.60">4</text>
<path d="M573.93,403.10L573.93,389.91L572.72,389.91C572.35,391.20 571.10,392.16 568.81,392.31L568.81,393.58L572.44,393.58L572.44,403.10Z" fill="#000"/><text x="578.00" y="403.10" font-size="18.60">6</text>
<text x="344.4" y="433.8" font-style="italic">b</text><text x="355.1" y="433.8" font-style="italic">c</text><text x="374.1" y="433.8" font-style="italic">/</text><text x="380.2" y="433.8" font-style="italic">G</text><text x="364.8" y="425.8" font-size="13">2</text><text transform="translate(392.4,433.8) scale(1.14,1)" font-style="italic">M</text>
<text transform="translate(14.9,208.3) rotate(-90)"><tspan font-family="Liberation Serif, serif" font-style="italic" font-size="21">θ</tspan><tspan dx="4.3" letter-spacing="-0.85">(°)</tspan></text>
</g>
<line x1="311.7" y1="11.7" x2="311.7" y2="195.9" stroke="#8c8c8c" stroke-width="1.5"/>
<line x1="311.0" y1="195.2" x2="609.5" y2="195.2" stroke="#8c8c8c" stroke-width="1.5"/>
<path d="M312.4,195.05h5.6M312.4,185.90h3.4M312.4,176.76h3.4M312.4,167.62h3.4M312.4,158.47h3.4M312.4,149.32h5.6M312.4,140.18h3.4M312.4,131.03h3.4M312.4,121.89h3.4M312.4,112.74h3.4M312.4,103.60h5.6M312.4,94.45h3.4M312.4,85.31h3.4M312.4,76.16h3.4M312.4,67.02h3.4M312.4,57.88h5.6M312.4,48.73h3.4M312.4,39.58h3.4M312.4,30.44h3.4M312.4,21.30h3.4M312.4,12.15h5.6M320.34,194.6v-3.4M328.71,194.6v-3.4M337.08,194.6v-3.4M345.45,194.6v-5.6M353.82,194.6v-3.4M362.19,194.6v-3.4M370.56,194.6v-3.4M378.93,194.6v-3.4M387.30,194.6v-5.6M395.67,194.6v-3.4M404.04,194.6v-3.4M412.41,194.6v-3.4M420.78,194.6v-3.4M429.15,194.6v-5.6M437.52,194.6v-3.4M445.89,194.6v-3.4M454.26,194.6v-3.4M462.63,194.6v-3.4M471.00,194.6v-5.6M479.37,194.6v-3.4M487.74,194.6v-3.4M496.11,194.6v-3.4M504.48,194.6v-3.4M512.85,194.6v-5.6M521.22,194.6v-3.4M529.59,194.6v-3.4M537.96,194.6v-3.4M546.33,194.6v-3.4M554.70,194.6v-5.6M563.07,194.6v-3.4M571.44,194.6v-3.4M579.81,194.6v-3.4M588.18,194.6v-3.4M596.55,194.6v-5.6M604.92,194.6v-3.4" stroke="#383838" stroke-width="1.1" fill="none"/>
<g font-family="Liberation Sans, sans-serif" font-size="18.60" fill="#000">
<path d="M290.19,17.80L290.19,4.61L288.98,4.61C288.60,5.90 287.36,6.86 285.07,7.01L285.07,8.28L288.70,8.28L288.70,17.80Z" fill="#000"/><text x="294.26" y="17.80" font-size="18.60">0</text>
<text x="294.26" y="64.40" font-size="18.60">5</text>
<text x="294.26" y="109.80" font-size="18.60">0</text>
<text x="283.40" y="155.60" font-size="18.60">−</text><text x="294.26" y="155.60" font-size="18.60">5</text>
<text x="273.05" y="201.20" font-size="18.60">−</text><path d="M290.18,201.20L290.18,188.01L288.98,188.01C288.60,189.30 287.36,190.26 285.07,190.41L285.07,191.68L288.70,191.68L288.70,201.20Z" fill="#000"/><text x="294.26" y="201.20" font-size="18.60">0</text>
<path d="M383.23,217.00L383.23,203.81L382.02,203.81C381.65,205.10 380.40,206.06 378.11,206.21L378.11,207.48L381.74,207.48L381.74,217.00Z" fill="#000"/><text x="387.30" y="217.00" font-size="18.60">2</text>
<path d="M466.93,217.00L466.93,203.81L465.72,203.81C465.35,205.10 464.10,206.06 461.81,206.21L461.81,207.48L465.44,207.48L465.44,217.00Z" fill="#000"/><text x="471.00" y="217.00" font-size="18.60">4</text>
<path d="M550.63,217.00L550.63,203.81L549.42,203.81C549.05,205.10 547.80,206.06 545.51,206.21L545.51,207.48L549.14,207.48L549.14,217.00Z" fill="#000"/><text x="554.70" y="217.00" font-size="18.60">6</text>
<text x="427.6" y="245.0" font-style="italic">b</text><text x="438.3" y="245.0" font-style="italic">c</text><text x="457.3" y="245.0" font-style="italic">/</text><text x="463.4" y="245.0" font-style="italic">G</text><text x="448.0" y="237.0" font-size="13">2</text><text transform="translate(475.6,245.0) scale(1.14,1)" font-style="italic">M</text>
<text transform="translate(268.5,130.2) rotate(-90)"><tspan font-family="Liberation Serif, serif" font-style="italic" font-size="21">δθ</tspan><tspan dx="4.4" letter-spacing="-0.6">(%)</tspan></text>
</g>
<circle cx="322.6" cy="103.6" r="3.7" fill="#000000"/>
<circle cx="322.6" cy="176.3" r="3.7" fill="#ff0000"/>
<circle cx="322.6" cy="44.7" r="3.7" fill="#00ad00"/>
<path d="M410.5,103.5V86.3M407.0,86.3h7" stroke="#333" stroke-width="1" fill="none"/>
<circle cx="410.2" cy="103.5" r="3.7" fill="#000000"/>
<circle cx="410.2" cy="184.7" r="3.7" fill="#0000ff"/>
<circle cx="410.2" cy="143.1" r="3.7" fill="#00ffff"/>
<circle cx="410.2" cy="121.6" r="3.7" fill="#ff0000"/>
<circle cx="410.2" cy="72.1" r="3.7" fill="#00ad00"/>
<path d="M497.9,103.9V83.6M494.4,83.6h7" stroke="#333" stroke-width="1" fill="none"/>
<circle cx="497.8" cy="103.9" r="3.7" fill="#000000"/>
<circle cx="497.8" cy="145.7" r="3.7" fill="#0000ff"/>
<circle cx="497.8" cy="117.3" r="3.7" fill="#00ffff"/>
<circle cx="497.8" cy="103.9" r="3.7" fill="#ff0000"/>
<circle cx="497.8" cy="80.0" r="3.7" fill="#00ad00"/>
<path d="M585.4,104.2V73.2M581.9,73.2h7" stroke="#333" stroke-width="1" fill="none"/>
<circle cx="585.3" cy="104.2" r="3.7" fill="#000000"/>
<circle cx="585.3" cy="175.4" r="3.7" fill="#800080"/>
<circle cx="585.3" cy="120.4" r="3.7" fill="#0000ff"/>
<circle cx="585.3" cy="99.4" r="3.7" fill="#00ffff"/>
<circle cx="585.3" cy="91.6" r="3.7" fill="#ff0000"/>
<circle cx="585.3" cy="78.0" r="3.7" fill="#00ad00"/>
<circle cx="621.2" cy="32.60" r="5.05" fill="#000000" stroke="#000" stroke-width="0.55"/>
<circle cx="621.2" cy="56.78" r="5.05" fill="#ff8600" stroke="#d06a00" stroke-width="0.55"/>
<circle cx="621.2" cy="80.96" r="5.05" fill="#800080" stroke="#5a005a" stroke-width="0.55"/>
<circle cx="621.2" cy="105.14" r="5.05" fill="#0000ff" stroke="#0000b8" stroke-width="0.55"/>
<circle cx="621.2" cy="129.32" r="5.05" fill="#00ffff" stroke="#00c4c4" stroke-width="0.55"/>
<circle cx="621.2" cy="153.50" r="5.05" fill="#ff0000" stroke="#c80000" stroke-width="0.55"/>
<circle cx="621.2" cy="177.68" r="5.05" fill="#00ad00" stroke="#007800" stroke-width="0.55"/>
<g font-family="Liberation Sans, sans-serif" font-size="18.60" fill="#000">
<text transform="translate(634.5,38.60) scale(1.000,1)">NR</text>
<text x="634.3" y="63.48" font-style="italic" font-size="19.3">G</text>
<path d="M654.20,54.68L654.20,45.04L653.31,45.04C653.04,45.98 652.13,46.68 650.46,46.79L650.46,47.72L653.11,47.72L653.11,54.68Z" fill="#000"/>
<text x="634.3" y="87.66"><tspan font-style="italic" font-size="19.3">G</tspan><tspan font-size="12.8" dx="-0.6" dy="-9.4">2</tspan></text>
<text x="634.3" y="111.84"><tspan font-style="italic" font-size="19.3">G</tspan><tspan font-size="12.8" dx="-0.6" dy="-9.4">3</tspan></text>
<text x="634.3" y="136.02"><tspan font-style="italic" font-size="19.3">G</tspan><tspan font-size="12.8" dx="-0.6" dy="-9.4">4</tspan></text>
<text x="634.3" y="160.20"><tspan font-style="italic" font-size="19.3">G</tspan><tspan font-size="12.8" dx="-0.6" dy="-9.4">5</tspan></text>
<text transform="translate(634.5,183.68) scale(1.045,1)">Schw</text>
</g>
</svg>
</body></html>
